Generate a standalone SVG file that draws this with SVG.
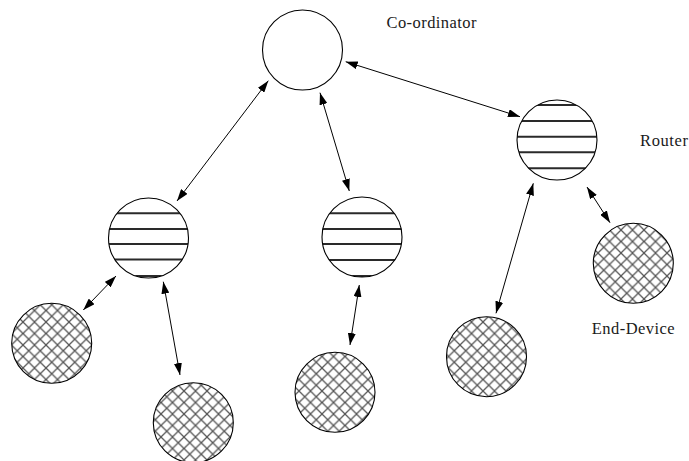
<svg xmlns="http://www.w3.org/2000/svg" width="689" height="461" viewBox="0 0 689 461">
  <style>
    .ring { fill: none; stroke: #000; stroke-width: 1.1; }
    .bg { fill: #fff; }
    .stripe { stroke: #2a2a2a; stroke-width: 2; }
    .hatch { fill: url(#cross); }
    .link { stroke: #000; stroke-width: 1; fill: none; marker-start: url(#head); marker-end: url(#head); }
    .label { font-family: "Liberation Serif", "Times New Roman", serif; font-size: 16.5px; fill: #1a1a1a; }
  </style>
  <defs>
    <marker id="head" viewBox="0 0 12 8" refX="12" refY="4" markerWidth="12" markerHeight="8" markerUnits="userSpaceOnUse" orient="auto-start-reverse">
      <path d="M0,0 L12,4 L0,8 Z" fill="#000"/>
    </marker>
    <pattern id="cross" patternUnits="userSpaceOnUse" width="11.5" height="11.5">
      <rect width="11.5" height="11.5" fill="#fff"/>
      <path d="M-1,-1 L12.5,12.5 M12.5,-1 L-1,12.5" stroke="#555" stroke-width="1.3"/>
    </pattern>
    <clipPath id="clipRouterR"><circle cx="557" cy="140" r="40"/></clipPath>
    <clipPath id="clipRouterL"><circle cx="148.5" cy="238" r="40"/></clipPath>
    <clipPath id="clipRouterM"><circle cx="362" cy="237" r="40"/></clipPath>
  </defs>

  <rect width="689" height="461" fill="#fff"/>

  <!-- connectors -->
  <g id="links">
    <line class="link" x1="268.3" y1="80.7" x2="177" y2="201"/>
    <line class="link" x1="320" y1="92.7" x2="349.3" y2="191"/>
    <line class="link" x1="345.7" y1="61.7" x2="520" y2="116.7"/>
    <line class="link" x1="533.3" y1="183.3" x2="496" y2="313.3"/>
    <line class="link" x1="587" y1="187" x2="610" y2="222.7"/>
    <line class="link" x1="116" y1="276" x2="83.3" y2="310"/>
    <line class="link" x1="163.3" y1="281.7" x2="180" y2="375"/>
    <line class="link" x1="359.3" y1="285" x2="350" y2="345"/>
  </g>

  <!-- co-ordinator -->
  <g id="coordinator">
    <circle class="bg" cx="302.5" cy="50" r="40"/>
    <circle class="ring" cx="302.5" cy="50" r="40"/>
    <text class="label" x="386.5" y="28" textLength="90" lengthAdjust="spacing">Co-ordinator</text>
  </g>

  <!-- routers -->
  <g id="router-right">
    <circle class="bg" cx="557" cy="140" r="40"/>
    <g clip-path="url(#clipRouterR)">
      <line class="stripe" x1="515" y1="105" x2="600" y2="105"/>
      <line class="stripe" x1="515" y1="121" x2="600" y2="121"/>
      <line class="stripe" x1="515" y1="136.7" x2="600" y2="136.7"/>
      <line class="stripe" x1="515" y1="152.3" x2="600" y2="152.3"/>
      <line class="stripe" x1="515" y1="168.3" x2="600" y2="168.3"/>
    </g>
    <circle class="ring" cx="557" cy="140" r="40"/>
    <text class="label" x="640" y="146" textLength="48" lengthAdjust="spacing">Router</text>
  </g>

  <g id="router-left">
    <circle class="bg" cx="148.5" cy="238" r="40"/>
    <g clip-path="url(#clipRouterL)">
      <line class="stripe" x1="105" y1="213.3" x2="192" y2="213.3"/>
      <line class="stripe" x1="105" y1="229" x2="192" y2="229"/>
      <line class="stripe" x1="105" y1="244" x2="192" y2="244"/>
      <line class="stripe" x1="105" y1="259.5" x2="192" y2="259.5"/>
      <line class="stripe" x1="105" y1="276" x2="192" y2="276"/>
    </g>
    <circle class="ring" cx="148.5" cy="238" r="40"/>
  </g>

  <g id="router-middle">
    <circle class="bg" cx="362" cy="237" r="40"/>
    <g clip-path="url(#clipRouterM)">
      <line class="stripe" x1="320" y1="213.3" x2="405" y2="213.3"/>
      <line class="stripe" x1="320" y1="229" x2="405" y2="229"/>
      <line class="stripe" x1="320" y1="244" x2="405" y2="244"/>
      <line class="stripe" x1="320" y1="260" x2="405" y2="260"/>
      <line class="stripe" x1="320" y1="276" x2="405" y2="276"/>
    </g>
    <circle class="ring" cx="362" cy="237" r="40"/>
  </g>

  <!-- end devices -->
  <g id="end-device-1">
    <circle class="hatch" cx="51.7" cy="343.3" r="40"/>
    <circle class="ring" cx="51.7" cy="343.3" r="40"/>
  </g>
  <g id="end-device-2">
    <circle class="hatch" cx="193.3" cy="422.7" r="40"/>
    <circle class="ring" cx="193.3" cy="422.7" r="40"/>
  </g>
  <g id="end-device-3">
    <circle class="hatch" cx="335" cy="392.3" r="40"/>
    <circle class="ring" cx="335" cy="392.3" r="40"/>
  </g>
  <g id="end-device-4">
    <circle class="hatch" cx="486.5" cy="356.7" r="40"/>
    <circle class="ring" cx="486.5" cy="356.7" r="40"/>
  </g>
  <g id="end-device-5">
    <circle class="hatch" cx="633.3" cy="263.3" r="40"/>
    <circle class="ring" cx="633.3" cy="263.3" r="40"/>
    <text class="label" x="591.7" y="334" textLength="83" lengthAdjust="spacing">End-Device</text>
  </g>
</svg>
